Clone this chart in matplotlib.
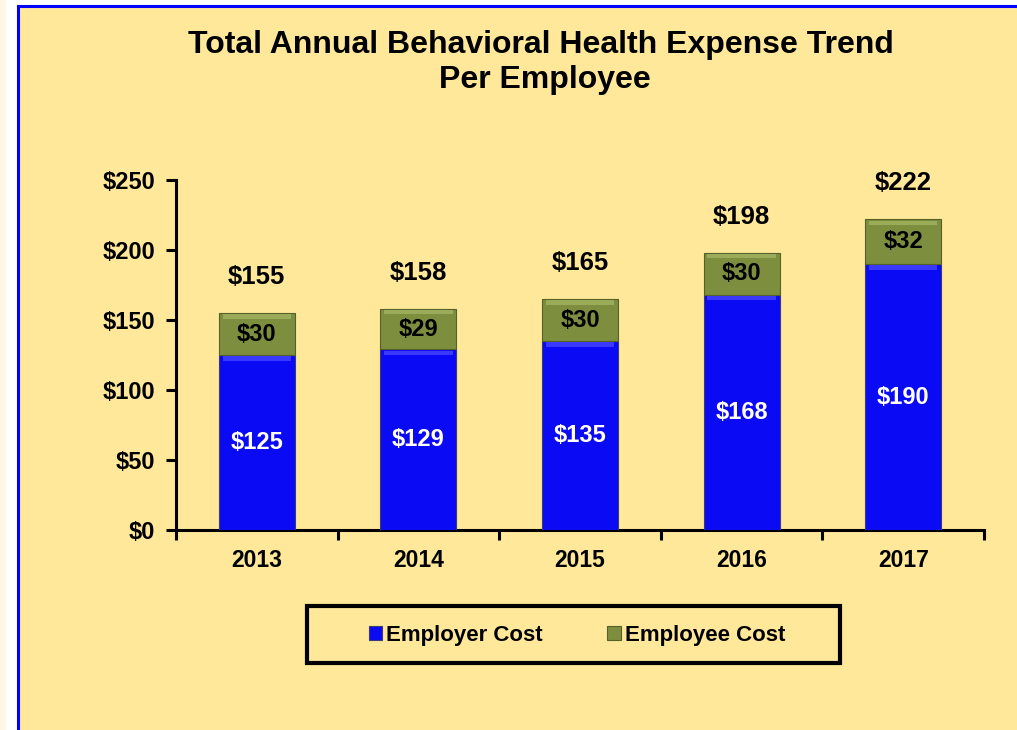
import matplotlib
matplotlib.use("Agg")
import matplotlib.pyplot as plt
from matplotlib.patches import Rectangle
from matplotlib.lines import Line2D

years = ["2013", "2014", "2015", "2016", "2017"]
employer = [125, 129, 135, 168, 190]
employee = [30, 29, 30, 30, 32]
totals = [155, 158, 165, 198, 222]
yticks = [0, 50, 100, 150, 200, 250]

BG = "#FFE899"
BLUE = "#0A0AF5"
GREEN = "#7D8F3E"
FONT = "Liberation Sans"

fig = plt.figure(figsize=(10.17, 7.30), dpi=100)
fig.patch.set_facecolor("white")

# outer frame: cream strip, white gap, blue border, yellow panel
fig.patches.append(Rectangle((0, 0), 6/1017, 1, transform=fig.transFigure,
                             facecolor="#FFF7E6", edgecolor="none", zorder=-3))
fig.patches.append(Rectangle((18/1017, 0), 1 - 18/1017, 1 - 6/730, transform=fig.transFigure,
                             facecolor=BG, edgecolor="none", zorder=-3))
fig.lines.append(Line2D([18/1017, 18/1017], [0, 1 - 6/730], transform=fig.transFigure,
                        color="#0000FF", lw=2.2, zorder=-2))
fig.lines.append(Line2D([18/1017, 1], [1 - 6/730, 1 - 6/730], transform=fig.transFigure,
                        color="#0000FF", lw=2.2, zorder=-2))

ax = fig.add_axes([176/1017, 1 - 530/730, (984 - 176)/1017, (530 - 180)/730])
ax.set_facecolor("none")
ax.set_zorder(2)

x = list(range(len(years)))
w = 0.47
b1 = ax.bar(x, employer, width=w, color=BLUE, edgecolor="#3a3a7a", linewidth=0.8,
            label="Employer Cost", zorder=3)
b2 = ax.bar(x, employee, width=w, bottom=employer, color=GREEN, edgecolor="#55602a",
            linewidth=0.8, label="Employee Cost", zorder=3)

# subtle bevel highlight at the top of each segment
for xi, e, m in zip(x, employer, employee):
    ax.bar(xi, 3, width=w * 0.9, bottom=e - 4, color="#3a3aff", linewidth=0, zorder=4)
    ax.bar(xi, 3, width=w * 0.9, bottom=e + m - 4, color="#9aab5a", linewidth=0, zorder=4)

for xi, e, m, t in zip(x, employer, employee, totals):
    ax.text(xi, e / 2, f"${e}", ha="center", va="center", color="white",
            fontsize=17, fontweight="bold", family=FONT, zorder=5)
    ax.text(xi, e + m / 2, f"${m}", ha="center", va="center", color="black",
            fontsize=17, fontweight="bold", family=FONT, zorder=5)
    ax.annotate(f"${t}", (xi, t), xytext=(0, 36), textcoords="offset pixels",
                ha="center", va="center", fontsize=18.5, fontweight="bold", family=FONT)

ax.set_xlim(-0.5, len(years) - 0.5)
ax.set_ylim(0, 250)
ax.set_yticks(yticks)
ax.set_yticklabels([f"${v}" for v in yticks], fontsize=17, fontweight="bold", family=FONT)
ax.set_xticks(x)
ax.set_xticklabels(years, fontsize=16.5, fontweight="bold", family=FONT)
ax.tick_params(axis="x", length=0, pad=14)
ax.set_xticks([i - 0.5 for i in range(len(years) + 1)], minor=True)
ax.tick_params(axis="x", which="minor", length=7, width=2.2, direction="out")
ax.tick_params(axis="y", length=7, width=2.2, direction="out", pad=8)
for s in ["top", "right"]:
    ax.spines[s].set_visible(False)
ax.spines["left"].set_linewidth(2.2)
ax.spines["bottom"].set_linewidth(2.2)

# legend frame drawn separately (wide box like the reference)
fig.patches.append(Rectangle((307/1017, 1 - 663/730), (840 - 307)/1017, (663 - 606)/730,
                             transform=fig.transFigure, facecolor="none",
                             edgecolor="black", linewidth=3, zorder=5))
leg = fig.legend(handles=[b1, b2], loc="center",
                 bbox_to_anchor=(577/1017, 1 - 635/730), ncol=2,
                 prop={"family": FONT, "weight": "bold", "size": 16},
                 frameon=False, handlelength=0.6, handleheight=0.6,
                 handletextpad=0.2, columnspacing=2.9, borderaxespad=0)
leg.set_zorder(6)

fig.text(541/1017, 1 - 45/730, "Total Annual Behavioral Health Expense Trend",
         ha="center", va="center", fontsize=23, fontweight="bold", family=FONT)
fig.text(545/1017, 1 - 80/730, "Per Employee",
         ha="center", va="center", fontsize=23, fontweight="bold", family=FONT)

fig.savefig("out.png", dpi=100, facecolor=fig.get_facecolor())
